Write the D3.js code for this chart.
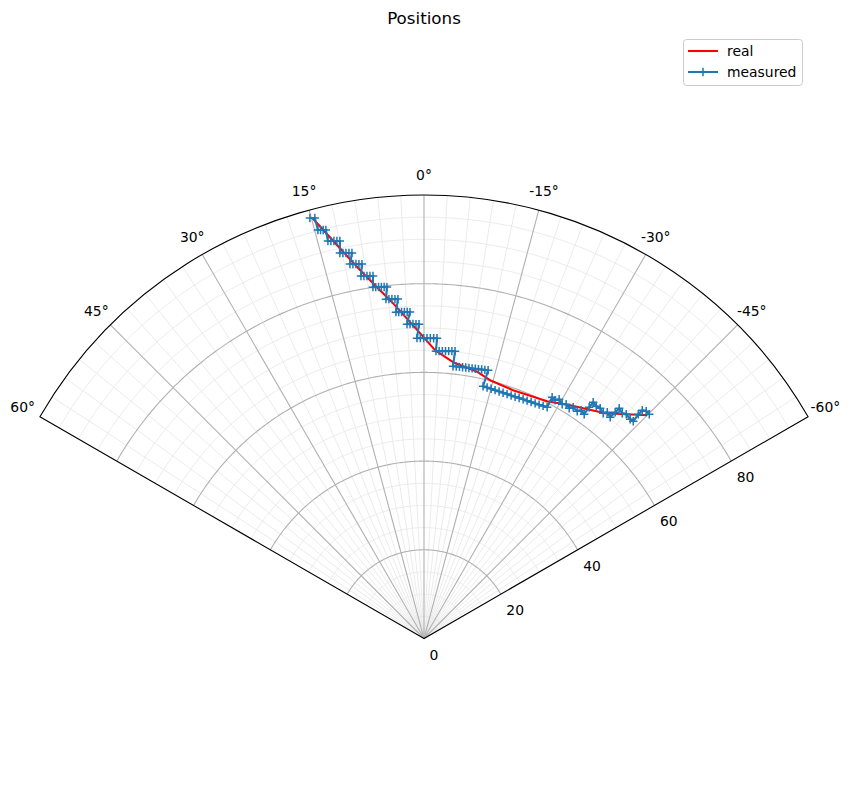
<!DOCTYPE html>
<html>
<head>
<meta charset="utf-8">
<script src="https://cdn.jsdelivr.net/npm/d3@7"></script>
<style>
  html, body { margin: 0; padding: 0; background: #fff; }
  text { font-family: "DejaVu Sans", sans-serif; }
</style>
</head>
<body>
<svg id="chart" width="850" height="812"></svg>
<script>
// ---- data (theta in degrees, counter-clockwise from north; r in range units) ----
const realTheta = [14.87, 12.48, 9.62, 5.29, 0.75, -2.19, -6.0, -11.02, -14.35, -19.74, -27.43, -32.07, -38.82, -45.0];
const realR     = [98.09, 90.86, 83.80, 75.94, 68.86, 65.06, 62.64, 61.40, 60.12, 59.48, 60.28, 62.07, 65.18, 71.19];

const measTheta = [
  15.18, 14.55,
  14.56, 14.21, 13.86, 13.51,
  13.59, 13.18, 12.77, 12.36, 11.95,
  12.31, 11.88, 11.45, 11.02, 10.59,
  11.19, 10.75, 10.30, 9.86, 9.41,
  9.87, 9.41, 8.94, 8.48, 8.01,
  8.27, 7.82, 7.37, 6.92, 6.47, 6.02,
  6.40, 5.90, 5.40, 4.89, 4.39,
  4.91, 4.42, 3.93, 3.44, 2.95, 2.46,
  3.10, 2.55, 2.01, 1.46, 0.91,
  1.34, 0.70, 0.07, -0.57, -1.21, -1.84, -2.48,
  -2.39, -3.02, -3.65, -4.28, -4.91, -5.54, -6.17,
  -6.09, -6.76, -7.43, -8.09, -8.76, -9.43, -10.10, -10.77, -11.43, -12.10, -12.77, -13.44,
  -13.18, -14.11, -15.04, -15.97, -16.91, -17.84, -18.78, -19.72, -20.65, -21.58, -22.51, -23.44, -24.37, -25.30, -26.21, -27.12, -28.04,
  -27.97, -28.83, -29.46, -30.53, -31.25, -32.23, -32.82, -33.99, -34.55, -35.54,
  -35.54, -35.61, -36.56, -37.42, -38.51, -39.00, -40.08,
  -40.20, -40.28, -41.35, -42.05, -43.24, -43.93,
  -43.70, -43.72, -44.36, -45.13
];
const measR = [
  98.24, 97.95,
  95.16, 95.01, 94.87, 94.72,
  92.20, 92.05, 91.90, 91.76, 91.61,
  88.95, 88.82, 88.68, 88.55, 88.42,
  86.06, 85.94, 85.82, 85.69, 85.57,
  82.95, 82.85, 82.74, 82.64, 82.53,
  80.06, 79.98, 79.90, 79.83, 79.75, 79.67,
  77.00, 76.94, 76.88, 76.81, 76.75,
  73.86, 73.82, 73.78, 73.74, 73.70, 73.66,
  70.98, 70.96, 70.94, 70.91, 70.89,
  67.74, 67.73, 67.72, 67.72, 67.73, 67.75, 67.78,
  64.85, 64.88, 64.92, 64.97, 65.03, 65.09, 65.17,
  61.75, 61.76, 61.77, 61.79, 61.81, 61.84, 61.86, 61.90, 61.96, 62.02, 62.10, 62.20,
  58.42, 58.35, 58.30, 58.25, 58.21, 58.20, 58.20, 58.22, 58.25, 58.31, 58.38, 58.45, 58.53, 58.64, 58.77, 58.92, 59.07,
  61.60, 61.32, 61.96, 61.32, 61.78, 61.38, 62.05, 61.79, 62.49, 62.14,
  64.08, 65.52, 65.20, 65.38, 64.90, 65.65, 65.21,
  66.80, 68.07, 67.66, 68.09, 67.87, 68.01,
  69.93, 71.21, 71.67, 71.67
];

const thetaTicks = [-60, -45, -30, -15, 0, 15, 30, 45, 60];
const rTicks = [0, 20, 40, 60, 80];
const rMax = 100;
const thetaMin = -60, thetaMax = 60;
const seriesNames = ["real", "measured"];
const seriesColors = ["#ff0000", "#1f77b4"];
const titleText = "Positions";

// ---- layout ----
const svg = d3.select("#chart");
const cx = 424, cy = 638.5, R = 443.5;
const rScale = d3.scaleLinear().domain([0, rMax]).range([0, R]);
// d3 radial angle: clockwise from north; our theta is counter-clockwise
const aScale = d3.scaleLinear().domain([thetaMin, thetaMax]).range([-thetaMin * Math.PI / 180, -thetaMax * Math.PI / 180]);
const toXY = (t, r) => { const a = aScale(t), rr = rScale(r); return [rr * Math.sin(a), -rr * Math.cos(a)]; };

const g = svg.append("g").attr("transform", `translate(${cx},${cy})`);

function arcPath(r) {
  const steps = d3.range(thetaMin, thetaMax + 0.001, 0.5);
  return d3.lineRadial().angle(d => aScale(d)).radius(rScale(r))(steps);
}

// minor grid
const minorT = d3.range(thetaMin, thetaMax + 0.001, 3).filter(t => t % 15 !== 0);
const minorR = d3.range(5, rMax, 5).filter(r => r % 20 !== 0);
g.append("g").selectAll("line").data(minorT).join("line")
  .attr("x1", 0).attr("y1", 0)
  .attr("x2", d => toXY(d, rMax)[0]).attr("y2", d => toXY(d, rMax)[1])
  .attr("stroke", "#e6e6e6").attr("stroke-width", 0.8);
g.append("g").selectAll("path").data(minorR).join("path")
  .attr("d", d => arcPath(d)).attr("fill", "none")
  .attr("stroke", "#e6e6e6").attr("stroke-width", 0.8);

// major grid
g.append("g").selectAll("line").data(thetaTicks.filter(t => t > thetaMin && t < thetaMax)).join("line")
  .attr("x1", 0).attr("y1", 0)
  .attr("x2", d => toXY(d, rMax)[0]).attr("y2", d => toXY(d, rMax)[1])
  .attr("stroke", "#b0b0b0").attr("stroke-width", 1.1);
g.append("g").selectAll("path").data(rTicks.filter(r => r > 0)).join("path")
  .attr("d", d => arcPath(d)).attr("fill", "none")
  .attr("stroke", "#b0b0b0").attr("stroke-width", 1.1);

// data
const realData = realTheta.map((t, i) => ({ t, r: realR[i] }));
const measData = measTheta.map((t, i) => ({ t, r: measR[i] }));
const radial = d3.lineRadial().angle(d => aScale(d.t)).radius(d => rScale(d.r));

g.append("path").attr("d", radial(realData)).attr("fill", "none")
  .attr("stroke", seriesColors[0]).attr("stroke-width", 2.1).attr("stroke-linejoin", "round");
g.append("path").attr("d", radial(measData)).attr("fill", "none")
  .attr("stroke", seriesColors[1]).attr("stroke-width", 2.1).attr("stroke-linejoin", "round");
const plus = "M-4.2,0H4.2M0,-4.2V4.2";
g.append("g").selectAll("path").data(measData).join("path")
  .attr("transform", d => { const p = toXY(d.t, d.r); return `translate(${p[0]},${p[1]})`; })
  .attr("d", plus).attr("stroke", seriesColors[1]).attr("stroke-width", 1.5).attr("fill", "none");

// spines
const spine = d3.path();
const p0 = toXY(thetaMax, rMax);
spine.moveTo(0, 0); spine.lineTo(p0[0], p0[1]);
spine.arc(0, 0, R, -Math.PI / 2 - thetaMax * Math.PI / 180, -Math.PI / 2 - thetaMin * Math.PI / 180, false);
spine.closePath();
g.append("path").attr("d", spine.toString()).attr("fill", "none").attr("stroke", "#000").attr("stroke-width", 1.1);

// theta labels
const labR = R + 20;
g.append("g").selectAll("text").data(thetaTicks).join("text")
  .attr("x", d => Math.sin(aScale(d)) * labR)
  .attr("y", d => -Math.cos(aScale(d)) * labR)
  .attr("text-anchor", "middle").attr("dominant-baseline", "central")
  .attr("font-size", "13.9px").attr("fill", "#000")
  .text(d => d + "°");

// radial labels along the right edge
g.append("g").selectAll("text").data(rTicks).join("text")
  .attr("x", d => toXY(thetaMin, d)[0] + 5.5)
  .attr("y", d => toXY(thetaMin, d)[1] + 16)
  .attr("text-anchor", "start").attr("dominant-baseline", "central")
  .attr("font-size", "13.9px").attr("fill", "#000")
  .text(d => d);

// title
svg.append("text").attr("x", 424).attr("y", 18).attr("text-anchor", "middle")
  .attr("dominant-baseline", "central").attr("font-size", "16.7px").text(titleText);

// legend
const lg = svg.append("g").attr("transform", "translate(683,39)");
lg.append("rect").attr("x", 0.5).attr("y", 0.5).attr("width", 119).attr("height", 46).attr("rx", 3)
  .attr("fill", "#fff").attr("fill-opacity", 0.8).attr("stroke", "#cccccc").attr("stroke-width", 1);
seriesNames.forEach((name, i) => {
  const yy = 12 + i * 21;
  lg.append("line").attr("x1", 5).attr("x2", 35).attr("y1", yy).attr("y2", yy)
    .attr("stroke", seriesColors[i]).attr("stroke-width", 2.1);
  if (i === 1) lg.append("path").attr("transform", `translate(20,${yy})`).attr("d", plus)
    .attr("stroke", seriesColors[i]).attr("stroke-width", 1.5);
  lg.append("text").attr("x", 44).attr("y", yy).attr("dominant-baseline", "central")
    .attr("font-size", "13.9px").text(name);
});
</script>
</body>
</html>
